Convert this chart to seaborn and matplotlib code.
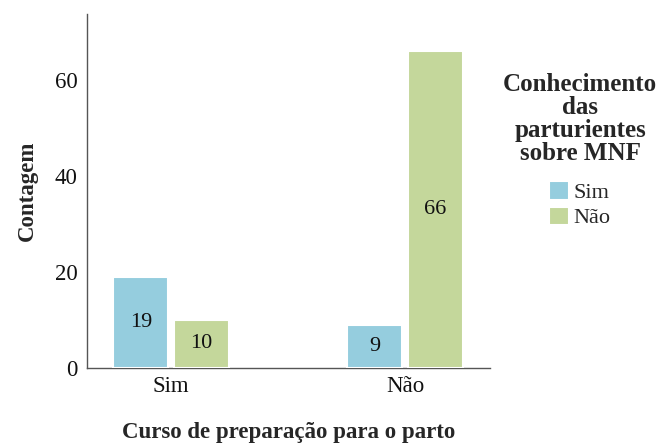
import matplotlib
matplotlib.use("Agg")
import matplotlib.pyplot as plt
import seaborn as sns
import pandas as pd

curso = ["Sim", "Sim", "Não", "Não"]
conhecimento = ["Sim", "Não", "Sim", "Não"]
contagem = [19, 10, 9, 66]
hue_order = ["Sim", "Não"]
colors = ["#95CDDE", "#C4D79B"]

df = pd.DataFrame({"Curso": curso, "Conhecimento": conhecimento, "Contagem": contagem})

sns.set_style("white")
plt.rcParams['font.family'] = ['Liberation Serif', 'DejaVu Serif']

fig = plt.figure(figsize=(6.57, 4.46), dpi=100)
ax = fig.add_axes([0.1324, 0.1749, 0.6134, 0.7937])

sns.barplot(data=df, x="Curso", y="Contagem", hue="Conhecimento",
            order=["Sim", "Não"], hue_order=hue_order, palette=colors,
            width=0.52, gap=0.1, ax=ax, edgecolor="white", linewidth=1.5,
            saturation=1, zorder=3)

for c in ax.containers:
    ax.bar_label(c, label_type="center", fontsize=16, color="#111111")

ax.set_ylim(0, 73.7)
ax.set_xlim(-0.36, 1.363)
ax.set_yticks([0, 20, 40, 60])
ax.tick_params(axis="both", labelsize=16.5, length=0, colors="#111111")
ax.tick_params(axis="y", pad=7)
ax.tick_params(axis="x", pad=6)
for s in ["top", "right"]:
    ax.spines[s].set_visible(False)
for s in ["left", "bottom"]:
    ax.spines[s].set_color("#555555")
    ax.spines[s].set_linewidth(1.0)
    ax.spines[s].set_zorder(2)

ax.set_xlabel("Curso de preparação para o parto", fontsize=16.5, fontweight="bold", labelpad=18)
ax.set_ylabel("Contagem", fontsize=16.5, fontweight="bold", labelpad=12)

leg = ax.legend(title="Conhecimento\ndas\nparturientes\nsobre MNF", loc="upper center",
                bbox_to_anchor=(0.883, 0.862), bbox_transform=fig.transFigure,
                frameon=False, fontsize=16,
                title_fontproperties={"weight": "bold", "size": 18},
                handlelength=0.9, handleheight=0.9, handletextpad=0.2,
                labelspacing=0.15, borderpad=0)
leg.get_title().set_multialignment("center")
leg.get_title().set_linespacing(1.0)
leg._legend_box.align = "center"
leg._legend_box.sep = 12

fig.savefig("out.png", dpi=100)
